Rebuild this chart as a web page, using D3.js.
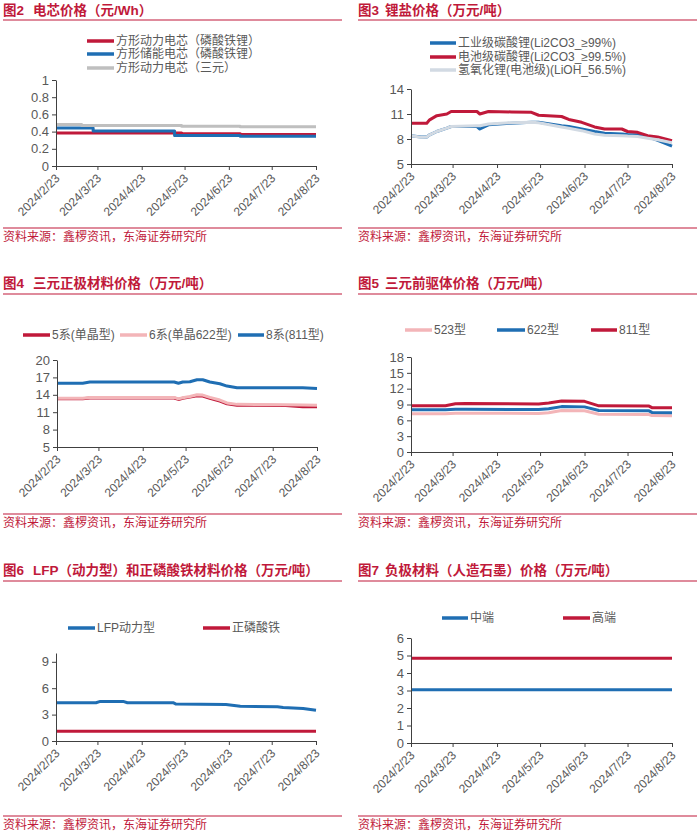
<!DOCTYPE html>
<html><head><meta charset="utf-8">
<script src="https://cdn.jsdelivr.net/npm/d3@7"></script>
<style>
body{margin:0;background:#fff}
svg{display:block}
text{font-family:"Liberation Sans",Arial,"Noto Sans CJK SC",sans-serif}
</style>
</head><body>
<svg id="c" width="700" height="839"></svg>
<script>
// ---------- shared tick labels ----------
const dateTicks = ["2024/2/23","2024/3/23","2024/4/23","2024/5/23","2024/6/23","2024/7/23","2024/8/23"];
const sourceText = "资料来源：鑫椤资讯，东海证券研究所";

// ---------- 图2 电芯价格（元/Wh） ----------
const cellDates = ["2024-02-23","2024-03-12","2024-03-20","2024-05-16","2024-05-21","2024-07-01","2024-08-23"];
const cellLfpPower   = [0.385,0.385,0.385,0.385,0.375,0.365,0.365];
const cellLfpStorage = [0.443,0.443,0.408,0.355,0.355,0.347,0.347];
const cellNcmPower   = [0.483,0.471,0.471,0.471,0.463,0.455,0.455];
const cellTicks = [0,0.2,0.4,0.6,0.8,1];
const cellTickLabels = ["0","0.2","0.4","0.6","0.8","1"];

// ---------- 图3 锂盐价格（万元/吨） ----------
const saltDates = ["2024-02-23","2024-03-01","2024-03-05","2024-03-07","2024-03-12","2024-03-19","2024-03-22","2024-04-09","2024-04-11","2024-04-17","2024-05-03","2024-05-17","2024-05-22","2024-06-07","2024-06-12","2024-06-21","2024-06-30","2024-07-07","2024-07-19","2024-07-23","2024-07-30","2024-08-06","2024-08-13","2024-08-23"];
const saltIndustrial = [8.4,8.25,8.25,8.5,8.9,9.3,9.5,9.5,9.2,9.7,9.9,10.0,10.0,9.6,9.5,9.2,8.9,8.7,8.6,8.55,8.5,8.25,7.85,7.15];
const saltBattery    = [9.9,9.9,9.9,10.3,10.8,11.0,11.3,11.3,11.0,11.3,11.25,11.2,10.85,10.7,10.35,10.0,9.45,9.2,9.2,8.9,8.8,8.4,8.25,7.8];
const saltLiOH       = [8.4,8.2,8.25,8.5,8.9,9.3,9.5,9.6,9.6,9.8,9.95,10.0,9.95,9.45,9.3,9.0,8.6,8.45,8.4,8.35,8.3,8.1,7.9,7.55];
const saltTicks = [5,8,11,14];

// ---------- 图4 三元正极材料价格（万元/吨） ----------
const ncmDates = ["2024-02-23","2024-03-12","2024-03-17","2024-05-15","2024-05-18","2024-05-21","2024-05-26","2024-05-31","2024-06-04","2024-06-09","2024-06-16","2024-06-21","2024-06-28","2024-08-01","2024-08-13","2024-08-23"];
const ncm5 = [13.3,13.3,13.45,13.45,13.2,13.4,13.6,13.85,13.8,13.4,12.9,12.45,12.2,12.15,11.95,11.95];
const ncm6 = [13.4,13.4,13.55,13.55,13.3,13.5,13.7,14.0,13.95,13.55,13.1,12.6,12.35,12.3,12.25,12.2];
const ncm8 = [16.0,16.0,16.2,16.2,16.0,16.2,16.25,16.6,16.6,16.2,15.9,15.5,15.2,15.2,15.2,15.1];
const ncmTicks = [5,8,11,14,17,20];

// ---------- 图5 三元前驱体价格（万元/吨） ----------
const precDates = ["2024-02-23","2024-03-18","2024-03-25","2024-04-01","2024-05-22","2024-05-29","2024-06-07","2024-06-23","2024-07-03","2024-08-07","2024-08-09","2024-08-23"];
const prec523 = [7.25,7.25,7.35,7.35,7.3,7.45,7.85,7.8,7.15,7.1,6.9,6.85];
const prec622 = [8.0,8.0,8.1,8.1,8.05,8.2,8.6,8.55,7.85,7.8,7.5,7.45];
const prec811 = [8.75,8.75,9.15,9.2,9.1,9.3,9.65,9.6,8.75,8.7,8.4,8.4];
const precTicks = [0,3,6,9,12,15,18];

// ---------- 图6 LFP（动力型）和正磷酸铁材料价格（万元/吨） ----------
const lfpDates = ["2024-02-23","2024-03-22","2024-03-25","2024-04-10","2024-04-13","2024-05-15","2024-05-17","2024-06-21","2024-07-01","2024-07-27","2024-07-31","2024-08-14","2024-08-23"];
const lfpPower = [4.35,4.35,4.5,4.5,4.35,4.35,4.2,4.15,3.95,3.9,3.8,3.7,3.5];
const ironPhosphate = [1.1,1.1,1.1,1.1,1.1,1.1,1.1,1.1,1.1,1.1,1.1,1.1,1.1];
const lfpTicks = [0,3,6,9];

// ---------- 图7 负极材料（人造石墨）价格（万元/吨） ----------
const anodeDates = ["2024-02-23","2024-08-23"];
const anodeMid  = [3.05,3.05];
const anodeHigh = [4.85,4.85];
const anodeTicks = [0,1,2,3,4,5,6];

// ---------- drawing ----------
const RED = "#C0193A", BLUE = "#1F6EB3", GRAY = "#BFBFBF", PINK = "#F3B5B8", LIGHT = "#D2DAE3";
const TXT = "#595959", AX = "#404040";
const svg = d3.select("#c");
const parseISO = d3.timeParse("%Y-%m-%d");
const parseTick = d3.timeParse("%Y/%m/%d");
const tickDates = dateTicks.map(parseTick);
const xDomain = [tickDates[0], tickDates[tickDates.length - 1]];

function panel(cfg) {
  const g = svg.append("g");
  const L = cfg.left;
  // title
  const t = g.append("text").attr("y", cfg.titleY).attr("fill", RED)
    .attr("font-size", 13.5).attr("font-weight", "bold");
  t.append("tspan").attr("x", L).text(cfg.fig);
  t.append("tspan").attr("x", L + cfg.titleGap).text(cfg.title);
  g.append("line").attr("x1", L).attr("x2", L + 339)
    .attr("y1", cfg.titleLineY).attr("y2", cfg.titleLineY)
    .attr("stroke", RED).attr("stroke-width", 1.2);
  // source
  g.append("line").attr("x1", L).attr("x2", L + 339)
    .attr("y1", cfg.srcLineY).attr("y2", cfg.srcLineY)
    .attr("stroke", RED).attr("stroke-width", 1.2);
  g.append("text").attr("x", L).attr("y", cfg.srcLineY + 13)
    .attr("fill", RED).attr("font-size", 12).text(sourceText);

  const x = d3.scaleTime().domain(xDomain).range(cfg.xr);
  const y = d3.scaleLinear().domain(cfg.yd).range(cfg.yr);

  // series
  const line = d3.line().x(p => x(p[0])).y(p => y(p[1])).curve(cfg.curve || d3.curveLinear);
  cfg.series.forEach(s => {
    const pts = s.dates.map((d, i) => [parseISO(d), s.values[i]]);
    g.append("path").datum(pts).attr("d", line)
      .attr("fill", "none").attr("stroke", s.color).attr("stroke-width", 3)
      .attr("stroke-linejoin", "round");
  });

  // y axis
  const ya = g.append("g").attr("transform", `translate(${cfg.xr[0]},0)`)
    .call(d3.axisLeft(y).tickValues(cfg.yTicks).tickSize(4).tickSizeOuter(0)
      .tickFormat((d, i) => cfg.yLabels ? cfg.yLabels[i] : String(d)));
  ya.selectAll("text").attr("fill", TXT).attr("font-size", 13).attr("font-family", null);
  ya.selectAll("line,path").attr("stroke", AX);

  // x axis
  const xa = g.append("g").attr("transform", `translate(0,${cfg.yr[0]})`)
    .call(d3.axisBottom(x).tickValues(tickDates).tickSize(4).tickSizeOuter(0)
      .tickFormat((d, i) => dateTicks[i]));
  xa.selectAll("line,path").attr("stroke", AX);
  xa.selectAll("text").attr("fill", TXT).attr("font-size", 12).attr("font-family", null)
    .attr("x", 0).attr("y", 0).attr("dy", "0.35em")
    .attr("text-anchor", "end")
    .attr("transform", "translate(1,10) rotate(-45)");

  // legend
  cfg.series.forEach(s => {
    g.append("line").attr("x1", s.lx).attr("x2", s.lx + s.lw)
      .attr("y1", s.ly).attr("y2", s.ly)
      .attr("stroke", s.color).attr("stroke-width", 3.5);
    g.append("text").attr("x", s.lx + s.lw + 2).attr("y", s.ly).attr("dy", "0.35em")
      .attr("fill", TXT).attr("font-size", 12).text(s.name);
  });
}

// 图2
panel({
  left: 3, fig: "图2", titleGap: 30, title: "电芯价格（元/Wh）", titleY: 15, titleLineY: 20, srcLineY: 228,
  xr: [56, 316], yd: [0, 1], yr: [166, 80], yTicks: cellTicks, yLabels: cellTickLabels,
  curve: d3.curveStepAfter,
  series: [
    {name: "方形动力电芯（磷酸铁锂）", color: RED, dates: cellDates, values: cellLfpPower, lx: 87, lw: 27, ly: 41},
    {name: "方形储能电芯（磷酸铁锂）", color: BLUE, dates: cellDates, values: cellLfpStorage, lx: 87, lw: 27, ly: 54},
    {name: "方形动力电芯（三元）", color: GRAY, dates: cellDates, values: cellNcmPower, lx: 87, lw: 27, ly: 68}
  ]
});

// 图3
panel({
  left: 358, fig: "图3", titleGap: 27, title: "锂盐价格（万元/吨）", titleY: 15, titleLineY: 20, srcLineY: 228,
  xr: [411, 672], yd: [5, 14], yr: [164, 89], yTicks: saltTicks,
  series: [
    {name: "工业级碳酸锂(Li2CO3_≥99%)", color: BLUE, dates: saltDates, values: saltIndustrial, lx: 430, lw: 26, ly: 43},
    {name: "电池级碳酸锂(Li2CO3_≥99.5%)", color: RED, dates: saltDates, values: saltBattery, lx: 430, lw: 26, ly: 57},
    {name: "氢氧化锂(电池级)(LiOH_56.5%)", color: LIGHT, dates: saltDates, values: saltLiOH, lx: 430, lw: 26, ly: 70}
  ]
});

// 图4
panel({
  left: 3, fig: "图4", titleGap: 30, title: "三元正极材料价格（万元/吨）", titleY: 288, titleLineY: 294, srcLineY: 514,
  xr: [57, 317], yd: [5, 20], yr: [447, 360], yTicks: ncmTicks,
  series: [
    {name: "5系(单晶型)", color: RED, dates: ncmDates, values: ncm5, lx: 23, lw: 27, ly: 335},
    {name: "6系(单晶622型)", color: PINK, dates: ncmDates, values: ncm6, lx: 120, lw: 27, ly: 335},
    {name: "8系(811型)", color: BLUE, dates: ncmDates, values: ncm8, lx: 238, lw: 26, ly: 335}
  ]
});

// 图5
panel({
  left: 358, fig: "图5", titleGap: 27, title: "三元前驱体价格（万元/吨）", titleY: 288, titleLineY: 294, srcLineY: 514,
  xr: [411, 672], yd: [0, 18], yr: [452, 357], yTicks: precTicks,
  series: [
    {name: "523型", color: PINK, dates: precDates, values: prec523, lx: 405, lw: 27, ly: 330},
    {name: "622型", color: BLUE, dates: precDates, values: prec622, lx: 497, lw: 28, ly: 330},
    {name: "811型", color: RED, dates: precDates, values: prec811, lx: 591, lw: 26, ly: 330}
  ]
});

// 图6
panel({
  left: 3, fig: "图6", titleGap: 30, title: "LFP（动力型）和正磷酸铁材料价格（万元/吨）", titleY: 575, titleLineY: 581, srcLineY: 816,
  xr: [56, 316], yd: [0, 10], yr: [741, 653], yTicks: lfpTicks,
  series: [
    {name: "LFP动力型", color: BLUE, dates: lfpDates, values: lfpPower, lx: 68, lw: 27, ly: 628},
    {name: "正磷酸铁", color: RED, dates: lfpDates, values: ironPhosphate, lx: 203, lw: 27, ly: 628}
  ]
});

// 图7
panel({
  left: 358, fig: "图7", titleGap: 27, title: "负极材料（人造石墨）价格（万元/吨）", titleY: 575, titleLineY: 581, srcLineY: 816,
  xr: [411, 672], yd: [0, 6], yr: [743, 638], yTicks: anodeTicks,
  series: [
    {name: "中端", color: BLUE, dates: anodeDates, values: anodeMid, lx: 442, lw: 26, ly: 618},
    {name: "高端", color: RED, dates: anodeDates, values: anodeHigh, lx: 563, lw: 27, ly: 618}
  ]
});
</script>
</body></html>
